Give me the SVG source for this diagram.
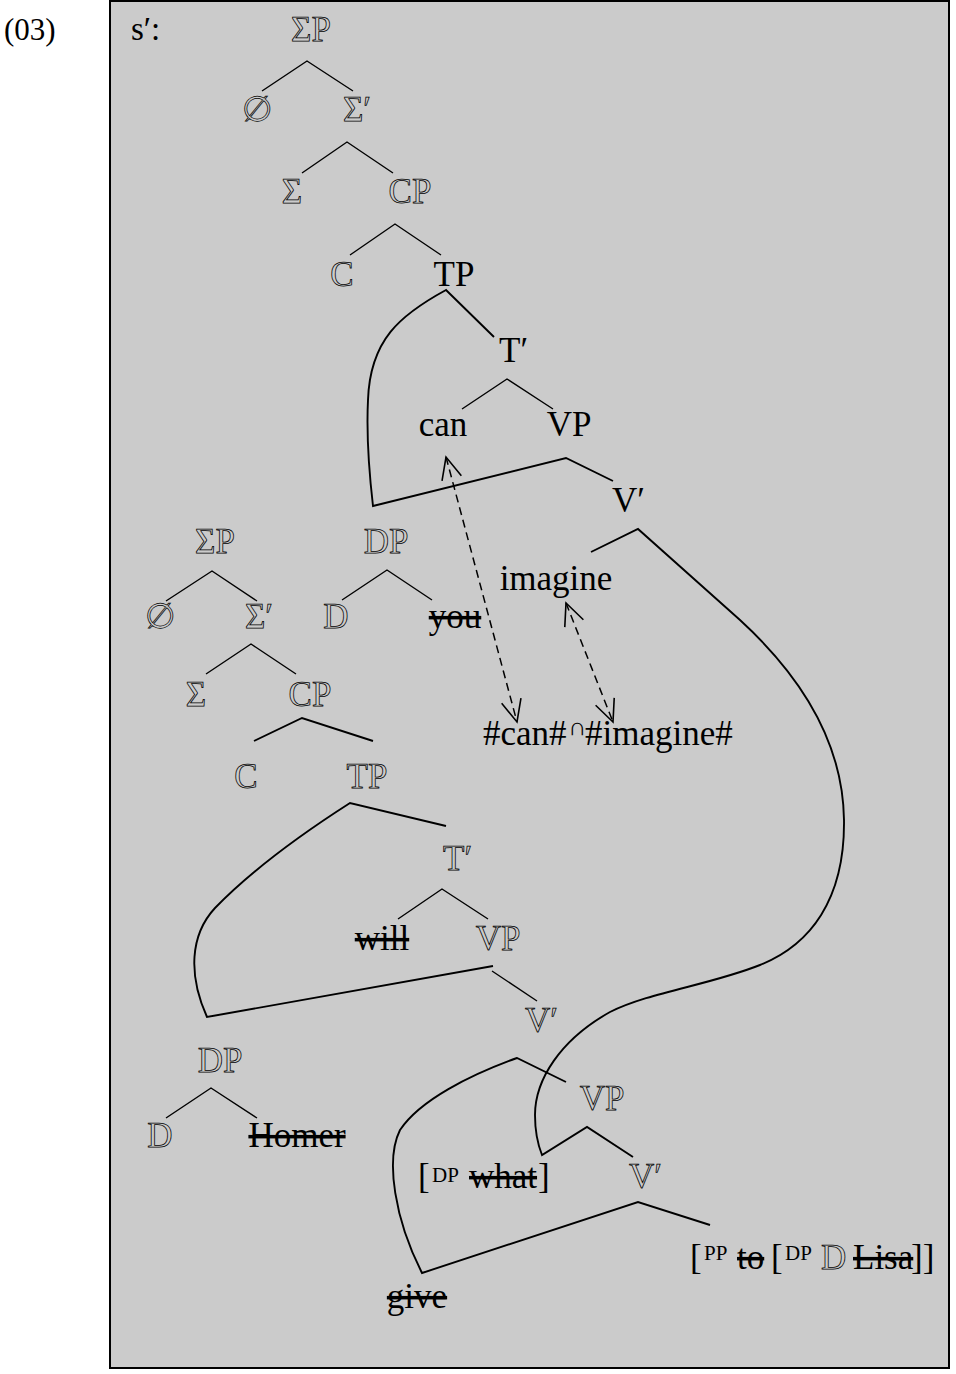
<svg xmlns="http://www.w3.org/2000/svg" width="956" height="1374" viewBox="0 0 956 1374">
<style>
text{font-family:"Liberation Serif","DejaVu Serif",serif;font-size:35px;fill:#000}
.o{fill:#cbcbcb;stroke:#000;stroke-width:0.75px}
.s{text-decoration:line-through}
.sup{font-size:21px}
.br{fill:none;stroke:#000;stroke-width:1.4;stroke-linejoin:miter}
.cv{fill:none;stroke:#000;stroke-width:1.9;stroke-linejoin:miter}
.ar{fill:none;stroke:#000;stroke-width:1.5;stroke-dasharray:8 5}
</style>
<defs>
<marker id="ah" viewBox="-26 -12 28 24" refX="0" refY="0" markerWidth="28" markerHeight="24" markerUnits="userSpaceOnUse" orient="auto-start-reverse">
<path d="M-22,-10 L0,0 L-22,10" fill="none" stroke="#000" stroke-width="1.6"/>
</marker>
</defs>
<rect x="0" y="0" width="956" height="1374" fill="#fff"/>
<rect id="frame" x="110" y="1" width="839" height="1367" fill="#cbcbcb" stroke="#000" stroke-width="2"/>
<g id="label-03"><text x="4" y="40" style="font-size:31px">(03)</text></g>
<g id="label-s"><text x="131" y="40" style="font-size:33px">s′:</text></g>

<g id="connectors">
<path class="br" d="M262,91 L307,61 L353,91"/>
<path class="br" d="M302,173 L347,142 L393,173"/>
<path class="br" d="M350,255 L395,224 L441,255"/>
<path class="cv" d="M494,337 L446,290 C400,315 370,340 368,400 C366,440 370,480 373,506 L566,458 L613,481"/>
<path class="br" d="M462,409 L507,379 L553,409"/>
<path class="cv" d="M591,552 L638,529 L740,620 C800,675 843,740 844,820 C845,900 810,945 760,965 C710,985 650,992 610,1012 C560,1040 535,1080 535,1115 C535,1130 538,1145 542,1155 L587,1127 L633,1157"/>
<path class="br" d="M342,600 L387,570 L432,600"/>
<path class="br" d="M166,601 L212,571 L257,601"/>
<path class="br" d="M206,674 L251,644 L296,674"/>
<path class="cv" d="M254,741 L302,718 L373,741"/>
<path class="cv" d="M446,826 L350,803 C300,835 250,872 215,908 C190,935 188,975 207,1017 L493,966"/>
<path class="br" d="M398,919 L442,889 L488,919"/>
<path class="br" d="M492,971 L537,1001"/>
<path class="br" d="M166,1118 L211,1088 L257,1118"/>
<path class="cv" d="M566,1082 L517,1058 C470,1075 420,1100 400,1130 C385,1160 395,1220 422,1273 L638,1202 L710,1225"/>
<line class="ar" x1="446" y1="457" x2="517" y2="722" marker-start="url(#ah)" marker-end="url(#ah)"/>
<line class="ar" x1="566" y1="603" x2="613" y2="722" marker-start="url(#ah)" marker-end="url(#ah)"/>
</g>

<g id="n-SigmaP-1"><text class="o" x="311" y="41" text-anchor="middle">ΣP</text></g>
<g id="n-null-1"><text class="o" x="257" y="121" text-anchor="middle">∅</text></g>
<g id="n-SigmaBar-1"><text class="o" x="343" y="121">Σ′</text></g>
<g id="n-Sigma-1"><text class="o" x="292" y="203" text-anchor="middle">Σ</text></g>
<g id="n-CP-1"><text class="o" x="410" y="203" text-anchor="middle">CP</text></g>
<g id="n-C-1"><text class="o" x="342" y="286" text-anchor="middle">C</text></g>
<g id="n-TP-1"><text x="454" y="286" text-anchor="middle">TP</text></g>
<g id="n-TBar-1"><text x="499" y="362">T′</text></g>
<g id="n-can"><text x="443" y="436" text-anchor="middle">can</text></g>
<g id="n-VP-1"><text x="569" y="436" text-anchor="middle">VP</text></g>
<g id="n-VBar-1"><text x="612" y="512">V′</text></g>
<g id="n-DP-you"><text class="o" x="386" y="553" text-anchor="middle">DP</text></g>
<g id="n-D-you"><text class="o" x="336" y="628" text-anchor="middle">D</text></g>
<g id="n-you"><text class="s" x="455" y="628" text-anchor="middle">you</text></g>
<g id="n-imagine"><text x="556" y="590" text-anchor="middle">imagine</text></g>
<g id="n-phon"><text x="483" y="745">#can#</text><text x="568" y="735" style="font-size:25px">∩</text><text x="585" y="745">#imagine#</text></g>

<g id="n-SigmaP-2"><text class="o" x="215" y="553" text-anchor="middle">ΣP</text></g>
<g id="n-null-2"><text class="o" x="160" y="628" text-anchor="middle">∅</text></g>
<g id="n-SigmaBar-2"><text class="o" x="245" y="628">Σ′</text></g>
<g id="n-Sigma-2"><text class="o" x="196" y="706" text-anchor="middle">Σ</text></g>
<g id="n-CP-2"><text class="o" x="310" y="706" text-anchor="middle">CP</text></g>
<g id="n-C-2"><text class="o" x="246" y="788" text-anchor="middle">C</text></g>
<g id="n-TP-2"><text class="o" x="367" y="788" text-anchor="middle">TP</text></g>
<g id="n-TBar-2"><text class="o" x="443" y="870">T′</text></g>
<g id="n-will"><text class="s" x="382" y="950" text-anchor="middle">will</text></g>
<g id="n-VP-2"><text class="o" x="498" y="950" text-anchor="middle">VP</text></g>
<g id="n-VBar-2"><text class="o" x="525" y="1032">V′</text></g>
<g id="n-DP-Homer"><text class="o" x="220" y="1072" text-anchor="middle">DP</text></g>
<g id="n-D-Homer"><text class="o" x="160" y="1147" text-anchor="middle">D</text></g>
<g id="n-Homer"><text class="s" x="297" y="1147" text-anchor="middle">Homer</text></g>
<g id="n-VP-3"><text class="o" x="602" y="1110" text-anchor="middle">VP</text></g>
<g id="n-what"><text x="418" y="1188">[</text><text class="sup" x="432" y="1182">DP</text><text class="s" x="469" y="1188">what</text><text x="538" y="1188">]</text></g>
<g id="n-VBar-3"><text class="o" x="629" y="1188">V′</text></g>
<g id="n-give"><text class="s" x="417" y="1308" text-anchor="middle">give</text></g>
<g id="n-PP"><text x="690" y="1269">[</text><text class="sup" x="704" y="1260">PP</text><text class="s" x="737" y="1269">to</text><text x="771" y="1269">[</text><text class="sup" x="785" y="1260">DP</text><text class="o" x="821" y="1269">D</text><text class="s" x="853" y="1269">Lisa</text><text x="911" y="1269">]]</text></g>
</svg>
